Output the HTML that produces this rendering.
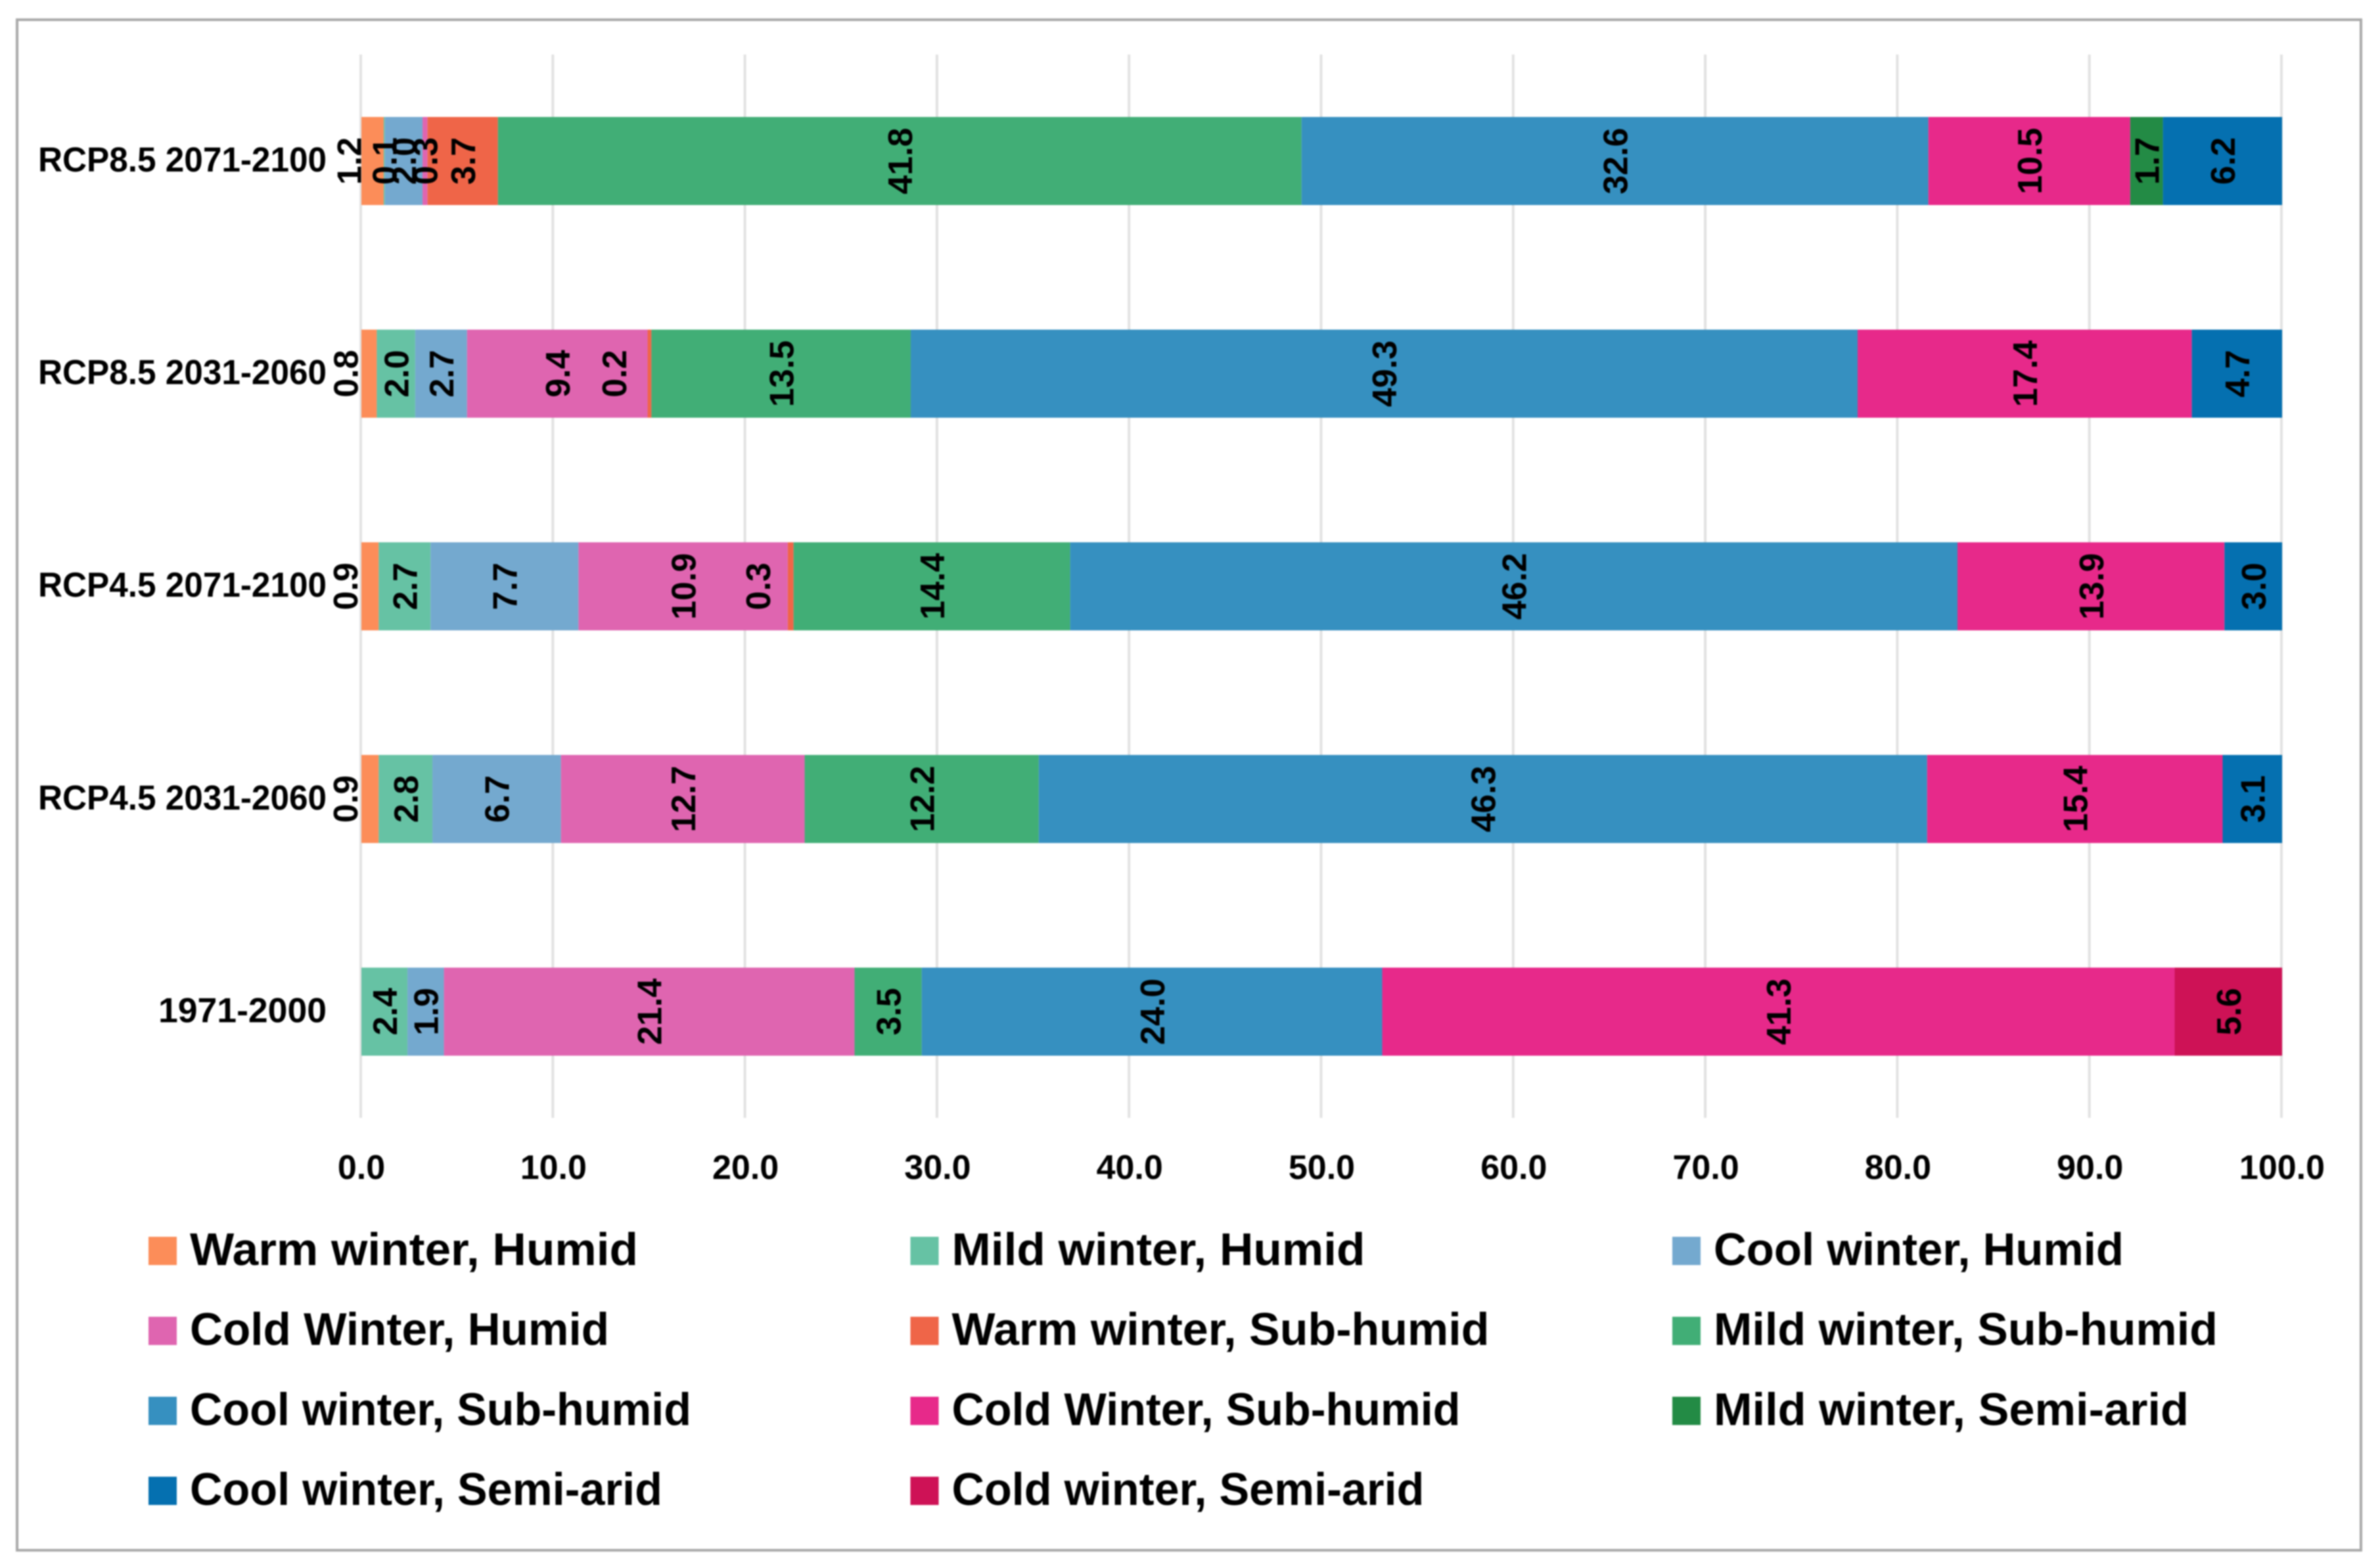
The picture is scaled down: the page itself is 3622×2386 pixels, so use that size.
<!DOCTYPE html>
<html lang="en">
<head>
<meta charset="utf-8">
<title>Climate class shares by period</title>
<style>
html,body{margin:0;padding:0;background:#fff;}
svg{display:block;filter:blur(1px);}
text{font-family:"Liberation Sans",sans-serif;font-weight:bold;fill:#000;}
</style>
</head>
<body>
<svg id="chart" xmlns="http://www.w3.org/2000/svg" width="3622" height="2386" viewBox="0 0 3622 2386">
<rect x="26" y="30" width="3567" height="2329" fill="#fff" stroke="#a9a9a9" stroke-width="4"/>
<g id="grid"></g>
<g id="bars"></g>
<g id="values"></g>
<g id="cats"></g>
<g id="ticks"></g>
<g id="legend"></g>
</svg>
<script>
const categories = ["RCP8.5 2071-2100","RCP8.5 2031-2060","RCP4.5 2071-2100","RCP4.5 2031-2060","1971-2000"];
const seriesNames = ["Warm winter, Humid","Mild winter, Humid","Cool winter, Humid","Cold Winter, Humid","Warm winter, Sub-humid","Mild winter, Sub-humid","Cool winter, Sub-humid","Cold Winter, Sub-humid","Mild winter, Semi-arid","Cool winter, Semi-arid","Cold winter, Semi-arid"];
const warmHumid = [1.16,0.8,0.9,0.9,0];
const mildHumid = [0.06,2.0,2.7,2.8,2.4];
const coolHumid = [1.96,2.7,7.7,6.7,1.9];
const coldHumid = [0.26,9.4,10.9,12.7,21.4];
const warmSubHumid = [3.66,0.2,0.3,0,0];
const mildSubHumid = [41.8,13.5,14.4,12.2,3.5];
const coolSubHumid = [32.6,49.3,46.2,46.3,24.0];
const coldSubHumid = [10.5,17.4,13.9,15.4,41.3];
const mildSemiArid = [1.7,0,0,0,0];
const coolSemiArid = [6.2,4.7,3.0,3.1,0];
const coldSemiArid = [0,0,0,0,5.6];
const xTicks = [0,10,20,30,40,50,60,70,80,90,100];

const seriesValues = [warmHumid,mildHumid,coolHumid,coldHumid,warmSubHumid,mildSubHumid,coolSubHumid,coldSubHumid,mildSemiArid,coolSemiArid,coldSemiArid];
const colors = ["#fc8d59","#66c2a4","#74a9cf","#df65b0","#ef6548","#41ae76","#3690c0","#e7298a","#238b45","#0570b0","#ce1256"];
/* manual label displacement (px), keyed "series-category", as in the source chart */
const labelNudge = {"0-0":-36,"0-1":-36,"0-2":-38,"0-3":-38,"4-1":-54,"4-2":-50};
/* rendered widths of text in the source font */
const legendTextWidths = [682,629,624,638,818,767,763,774,723,719,719];
const categoryTextWidths = [439,439,439,439,256];

const NS = "http://www.w3.org/2000/svg";
function x(v){ return 550 + 29.23 * v; }
function barTop(i){ return 178 + 323.6 * i; }
const BAR_H = 134;
function make(tag, attrs, parent, txt){
  const e = document.createElementNS(NS, tag);
  for (const k in attrs) e.setAttribute(k, attrs[k]);
  if (txt !== undefined) e.textContent = txt;
  parent.appendChild(e);
  return e;
}
const slug = s => s.toLowerCase().replace(/[^a-z0-9]+/g, "-");

const grid = document.getElementById("grid");
const ticks = document.getElementById("ticks");
xTicks.forEach(t => {
  const l = make("line", {x1:x(t)-1,x2:x(t)-1,y1:83,y2:1701,stroke:"#e2e2e2","stroke-width":4}, grid);
  
  
  const lab = make("text", {x:x(t),y:1794,"text-anchor":"middle","font-size":52}, ticks, t.toFixed(1));
  
  
});

const bars = document.getElementById("bars");
const values = document.getElementById("values");
const cats = document.getElementById("cats");
categories.forEach((c, i) => {
  const top = barTop(i);
  const mid = top + BAR_H / 2;
  const cl = make("text", {x:497-categoryTextWidths[i],y:mid+16,"font-size":53,textLength:categoryTextWidths[i],lengthAdjust:"spacingAndGlyphs"}, cats, c);
  
  
  /* 100% stacked: each row is scaled by its own total */
  const total = seriesValues.reduce((a, vals) => a + vals[i], 0);
  let sum = 0;
  seriesValues.forEach((vals, s) => {
    const v = vals[i];
    if (!v) return;
    const a = sum / total * 100, b = (sum + v) / total * 100;
    const r = make("rect", {x:x(a),y:top,width:x(b)-x(a),height:BAR_H,fill:colors[s]}, bars);
    
    
    const cx = x((a + b) / 2) + (labelNudge[s + "-" + i] || 0);
    const t = make("text", {x:cx,y:mid,dy:"0.36em","text-anchor":"middle","font-size":52,transform:"rotate(-90 "+cx+" "+mid+")"}, values, v.toFixed(1));
    
    
    sum += v;
  });
});

const legend = document.getElementById("legend");
seriesNames.forEach((n, s) => {
  const col = s % 3, row = Math.floor(s / 3);
  const sx = 226 + 1159.5 * col;
  const sy = 1882 + 121.7 * row;
  const g = make("g", {}, legend);
  
  
  const sw = make("rect", {x:sx,y:sy,width:43,height:43,fill:colors[s]}, g);
  
  
  const t = make("text", {x:sx+63,y:sy+43,"font-size":70,textLength:legendTextWidths[s],lengthAdjust:"spacingAndGlyphs"}, g, n);
  
  
});
</script>
</body>
</html>
